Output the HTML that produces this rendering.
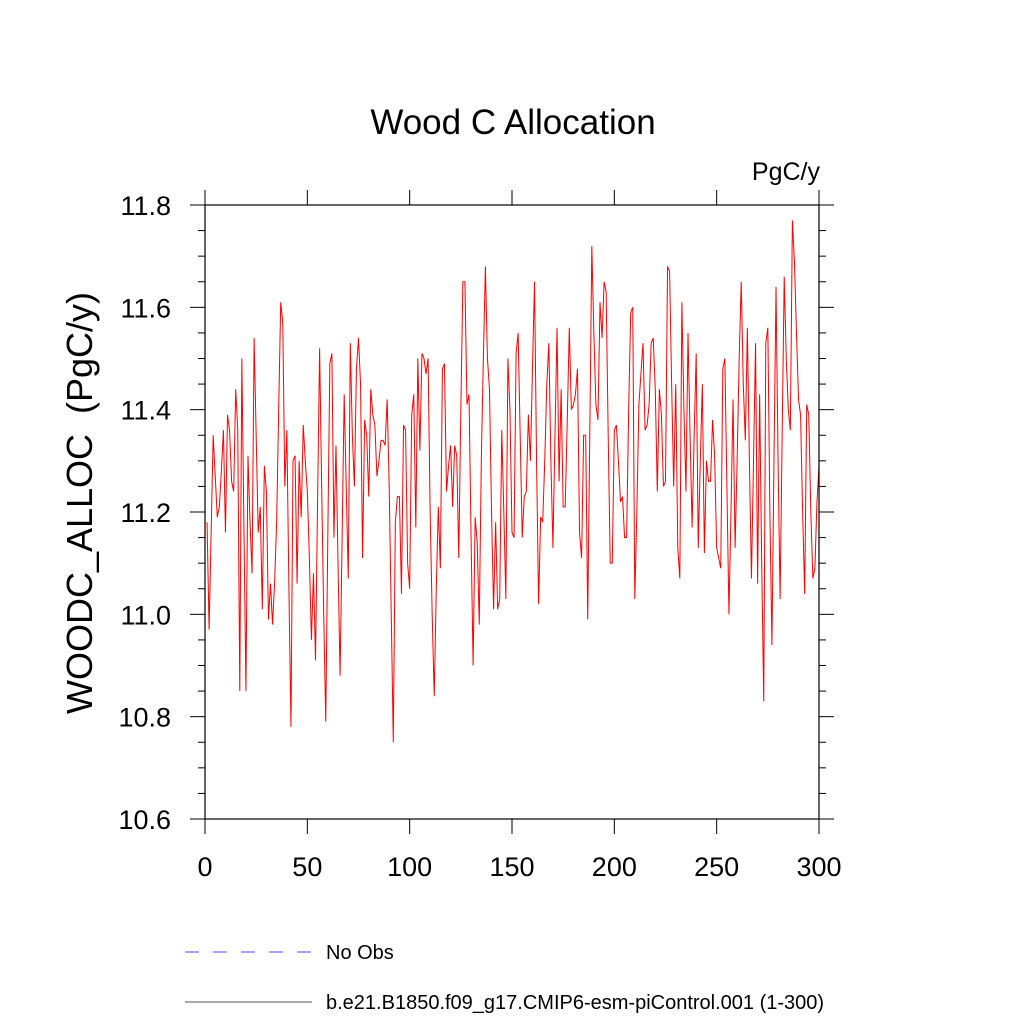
<!DOCTYPE html>
<html><head><meta charset="utf-8"><style>
body{margin:0;background:#fff;}
svg{display:block;font-family:"Liberation Sans",sans-serif;}
</style></head><body>
<svg id="chart" width="1024" height="1024" viewBox="0 0 1024 1024">
<text x="513" y="134" font-size="35" text-anchor="middle">Wood C Allocation</text>
<text x="820" y="180" font-size="25" text-anchor="end">PgC/y</text>
<text transform="translate(92,503) rotate(-90)" font-size="36" text-anchor="middle" style="white-space:pre">WOODC_ALLOC  (PgC/y)</text>
<g id="ticks"></g>
<polyline id="series" fill="none" stroke="#ff0000" stroke-width="1"/>
<rect x="205" y="205" width="614" height="614" fill="none" stroke="#000" stroke-width="1.2"/>
<line x1="185" y1="952" x2="315" y2="952" stroke="#4a4aff" stroke-width="1" stroke-dasharray="14,14"/>
<text x="326" y="959" font-size="20">No Obs</text>
<line x1="185" y1="1002" x2="312" y2="1002" stroke="#555" stroke-width="1"/>
<text x="326" y="1009" font-size="20">b.e21.B1850.f09_g17.CMIP6-esm-piControl.001 (1-300)</text>
</svg>
<script>
const xTicks=[0,50,100,150,200,250,300];
const yTicks=[10.6,10.8,11.0,11.2,11.4,11.6,11.8];
const yTickLabels=["10.6","10.8","11.0","11.2","11.4","11.6","11.8"];
const years=Array.from({length:300},(_,i)=>i+1);
const values=[11.18,10.97,11.16,11.35,11.27,11.19,11.21,11.28,11.36,11.16,11.39,11.36,11.26,11.24,11.44,11.36,10.85,11.50,11.18,10.85,
11.31,11.18,11.08,11.54,11.35,11.16,11.21,11.01,11.29,11.24,10.99,11.06,10.98,11.06,11.18,11.40,11.61,11.57,11.25,11.36,
11.05,10.78,11.30,11.31,11.06,11.30,11.19,11.37,11.30,11.24,11.11,10.95,11.08,10.91,11.22,11.52,11.25,11.00,10.79,11.15,
11.49,11.51,11.15,11.33,11.10,10.88,11.15,11.43,11.25,11.07,11.53,11.35,11.25,11.48,11.54,11.45,11.11,11.38,11.35,11.23,
11.44,11.39,11.37,11.27,11.30,11.34,11.34,11.33,11.42,11.25,11.00,10.75,11.18,11.23,11.23,11.04,11.37,11.36,11.10,11.05,
11.39,11.43,11.17,11.50,11.32,11.51,11.50,11.47,11.50,11.20,11.00,10.84,11.05,11.21,11.09,11.48,11.49,11.24,11.29,11.33,
11.21,11.33,11.31,11.11,11.40,11.65,11.65,11.41,11.43,11.15,10.90,11.19,11.14,10.98,11.30,11.50,11.68,11.50,11.44,11.20,
11.01,11.18,11.01,11.03,11.36,11.20,11.03,11.50,11.40,11.16,11.15,11.51,11.55,11.35,11.15,11.23,11.24,11.39,11.30,11.48,
11.65,11.30,11.02,11.19,11.18,11.30,11.45,11.53,11.30,11.13,11.35,11.56,11.26,11.44,11.21,11.21,11.38,11.56,11.40,11.41,
11.43,11.48,11.16,11.11,11.35,11.35,10.99,11.35,11.72,11.55,11.41,11.38,11.61,11.54,11.65,11.63,11.35,11.10,11.10,11.36,
11.37,11.30,11.22,11.23,11.15,11.15,11.40,11.59,11.60,11.03,11.20,11.41,11.47,11.53,11.36,11.37,11.41,11.53,11.54,11.44,
11.24,11.44,11.39,11.25,11.26,11.68,11.67,11.45,11.25,11.45,11.13,11.07,11.61,11.40,11.24,11.55,11.35,11.17,11.35,11.51,
11.13,11.30,11.45,11.12,11.30,11.26,11.26,11.38,11.31,11.13,11.11,11.09,11.48,11.50,11.25,11.00,11.20,11.42,11.13,11.30,
11.50,11.65,11.45,11.34,11.56,11.30,11.07,11.30,11.53,11.06,11.43,11.10,10.83,11.53,11.56,11.20,10.94,11.30,11.64,11.30,
11.03,11.35,11.66,11.50,11.40,11.36,11.77,11.69,11.55,11.42,11.39,11.20,11.04,11.41,11.39,11.20,11.07,11.09,11.22,11.29];
const X0=205,X1=819,Y0=819,Y1=205;
const xs=v=>X0+(v-0)/300*(X1-X0);
const ys=v=>Y0-(v-10.6)/1.2*(Y0-Y1);
const NS="http://www.w3.org/2000/svg";
const g=document.getElementById('ticks');
function ln(x1,y1,x2,y2,name){
  const l=document.createElementNS(NS,'line');
  l.setAttribute('x1',x1);l.setAttribute('y1',y1);l.setAttribute('x2',x2);l.setAttribute('y2',y2);
  l.setAttribute('stroke','#000');l.setAttribute('stroke-width','1');
  
  
  g.appendChild(l);
}
function tx(x,y,s,anchor,name){
  const t=document.createElementNS(NS,'text');
  t.setAttribute('x',x);t.setAttribute('y',y);t.setAttribute('font-size','27');t.setAttribute('text-anchor',anchor);
  t.textContent=s;
  
  
  g.appendChild(t);
}
xTicks.forEach(v=>{
  const x=xs(v);
  ln(x,Y0,x,Y0+15,'x-tick');
  ln(x,Y1,x,Y1-15,'x-tick-top');
  tx(x,Y0+57,String(v),'middle','x-tick-label');
});
yTicks.forEach((v,i)=>{
  const y=ys(v);
  ln(X0,y,X0-15,y,'y-tick');
  ln(X1,y,X1+15,y,'y-tick-right');
  tx(X0-34,y+10,yTickLabels[i],'end','y-tick-label');
});
for(let k=0;k<=24;k++){
  const v=10.6+k*0.05;
  if(k%4===0) continue;
  const y=ys(v);
  ln(X0,y,X0-7,y,'y-minor-tick');
  ln(X1,y,X1+7,y,'y-minor-tick-right');
}
document.getElementById('series').setAttribute('points',values.map((v,i)=>xs(years[i])+','+ys(v)).join(' '));
</script>
</body></html>
